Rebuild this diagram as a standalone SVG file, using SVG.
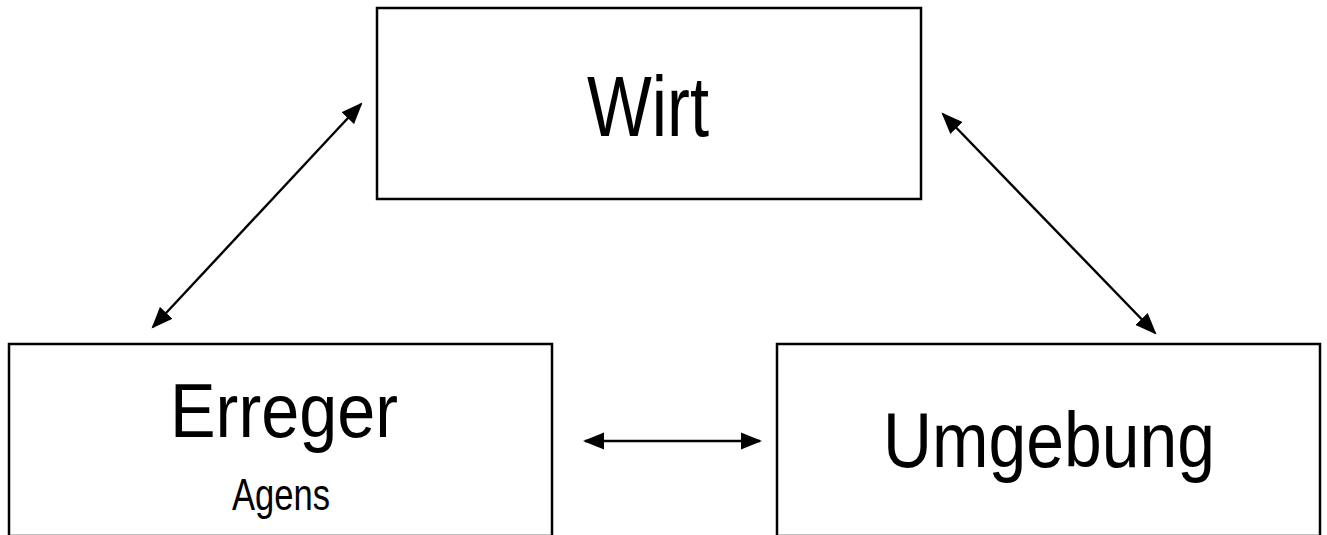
<svg xmlns="http://www.w3.org/2000/svg" width="1327" height="535" viewBox="0 0 1327 535">
<style>
.box{fill:#fff;stroke:#000;stroke-width:2.5}
.t{font-family:"Liberation Sans",Arial,sans-serif;fill:#000;text-anchor:middle}
.c{stroke:#000;stroke-width:2.4;fill:none;marker-start:url(#ah);marker-end:url(#ah)}
</style>
<defs>
<marker id="ah" viewBox="0 0 10 8" refX="9" refY="4" markerWidth="9" markerHeight="7.2" orient="auto-start-reverse" markerUnits="strokeWidth">
<path d="M0,0 L10,4 L0,8 z" fill="#000"/>
</marker>
</defs>
<rect width="1327" height="535" fill="#fff"/>
<g id="wirt">
<rect class="box" x="377" y="8" width="544" height="191"/>
<text class="t" x="648" y="136" font-size="85" textLength="122" lengthAdjust="spacingAndGlyphs">Wirt</text>
</g>
<g id="erreger">
<rect class="box" x="9" y="344" width="543" height="192"/>
<text class="t" x="284" y="437" font-size="76" textLength="228" lengthAdjust="spacingAndGlyphs">Erreger</text>
<text class="t" x="281" y="510" font-size="45" textLength="98" lengthAdjust="spacingAndGlyphs">Agens</text>
</g>
<g id="umgebung">
<rect class="box" x="777" y="344" width="543" height="192"/>
<text class="t" x="1049" y="467" font-size="77" textLength="332" lengthAdjust="spacingAndGlyphs">Umgebung</text>
</g>
<g id="connectors">
<line class="c" x1="153" y1="327" x2="361" y2="104"/>
<line class="c" x1="943" y1="114" x2="1155" y2="333"/>
<line class="c" x1="585" y1="441" x2="760" y2="441"/>
</g>
</svg>
